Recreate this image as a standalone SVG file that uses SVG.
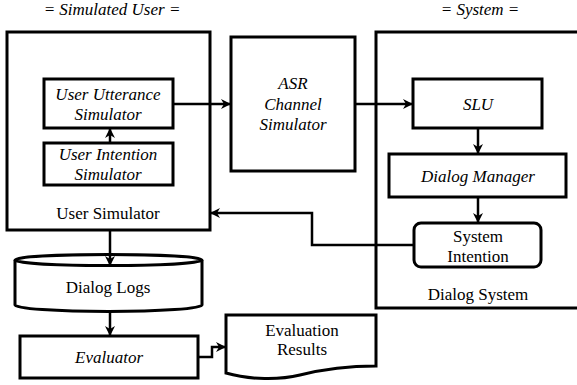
<svg xmlns="http://www.w3.org/2000/svg" width="577" height="385" viewBox="0 0 577 385">
<style>
.box{fill:#fff;stroke:#000;stroke-width:3}
.con{fill:none;stroke:#000;stroke-width:2.5}
.t{font-family:'Liberation Serif','Times New Roman',serif;font-size:17px;fill:#000;text-anchor:middle}
.it{font-style:italic}
</style>
<defs>
<marker id="ah" viewBox="0 0 10 10" refX="9" refY="5" markerWidth="4" markerHeight="4" orient="auto" markerUnits="strokeWidth">
<path d="M0,0 L10,5 L0,10 L3,5 Z" fill="#000"/>
</marker>
</defs>
<rect width="577" height="385" fill="#fff"/>
<text class="t it" x="112" y="15">= Simulated User =</text>
<text class="t it" x="480" y="15">= System =</text>

<g id="user-simulator">
<rect class="box" x="7" y="32" width="203" height="198"/>
<text class="t" x="108" y="219">User Simulator</text>
</g>
<g id="user-utterance">
<rect class="box" x="44" y="79" width="129" height="49"/>
<text class="t it" x="108" y="100">User Utterance</text>
<text class="t it" x="108" y="120">Simulator</text>
</g>
<g id="user-intention">
<rect class="box" x="44" y="143" width="129" height="42"/>
<text class="t it" x="108" y="160">User Intention</text>
<text class="t it" x="108" y="180">Simulator</text>
</g>
<g id="asr">
<rect class="box" x="231" y="37" width="124" height="134"/>
<text class="t it" x="293" y="89">ASR</text>
<text class="t it" x="293" y="110">Channel</text>
<text class="t it" x="293" y="130">Simulator</text>
</g>
<g id="dialog-system">
<rect class="box" x="376" y="32" width="220" height="276"/>
<text class="t" x="478" y="300">Dialog System</text>
</g>
<g id="slu">
<rect class="box" x="413" y="79" width="129" height="49"/>
<text class="t it" x="478" y="110">SLU</text>
</g>
<g id="dialog-manager">
<rect class="box" x="389" y="154" width="177" height="43"/>
<text class="t it" x="478" y="182">Dialog Manager</text>
</g>
<g id="system-intention">
<rect class="box" x="414" y="223" width="127" height="44" rx="7"/>
<text class="t" x="478" y="242">System</text>
<text class="t" x="478" y="262">Intention</text>
</g>
<g id="dialog-logs">
<path class="box" d="M15,260 L15,305 A93.5,6.5 0 0 0 202,305 L202,260"/>
<ellipse class="box" cx="108.5" cy="260" rx="93.5" ry="5.5"/>
<text class="t" x="108" y="293">Dialog Logs</text>
</g>
<g id="evaluator">
<rect class="box" x="20" y="336" width="178" height="42"/>
<text class="t it" x="109" y="363">Evaluator</text>
</g>
<g id="evaluation-results">
<path class="box" d="M226,315 L376,315 L376,366 C350,366 320,370 300,375 C280,380 250,380 226,373 Z"/>
<text class="t" x="302" y="336">Evaluation</text>
<text class="t" x="302" y="355">Results</text>
</g>

<g id="connectors">
<line class="con" x1="110" y1="143" x2="110" y2="129" stroke-width="2" marker-end="url(#ah)"/>
<line class="con" x1="173" y1="104" x2="230" y2="104" stroke-width="3" marker-end="url(#ah)"/>
<line class="con" x1="355" y1="104" x2="412" y2="104" marker-end="url(#ah)"/>
<line class="con" x1="478" y1="128" x2="478" y2="153" marker-end="url(#ah)"/>
<line class="con" x1="478" y1="197" x2="478" y2="222" marker-end="url(#ah)"/>
<polyline class="con" points="414,245 312,245 312,213 211,213" marker-end="url(#ah)"/>
<line class="con" x1="110" y1="230" x2="110" y2="265" marker-end="url(#ah)"/>
<line class="con" x1="110" y1="311" x2="110" y2="335" marker-end="url(#ah)"/>
<polyline class="con" points="198,357 212,357 212,347 225,347" marker-end="url(#ah)"/>
</g>
</svg>
